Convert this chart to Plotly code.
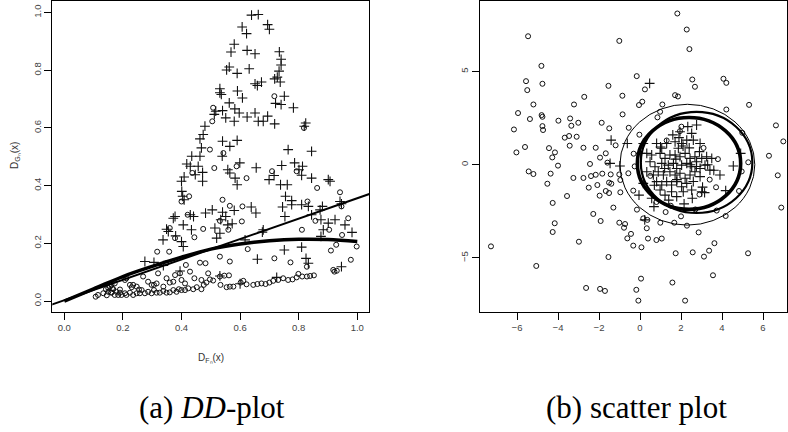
import plotly.graph_objects as go

W, H = 788, 432

# ---------------- Panel (a): DD-plot ----------------
a_plus_x = [0.639,0.662,0.607,0.622,0.694,0.700,0.580,0.569,0.624,0.651,0.734,0.740,0.740,0.554,0.563,0.590,0.631,0.733,0.727,0.737,
            0.651,0.659,0.673,0.718,0.531,0.531,0.536,0.591,0.608,0.563,0.721,0.740,0.751,0.782,0.517,0.512,0.540,0.551,0.582,0.597,
            0.624,0.651,0.662,0.694,0.679,0.718,0.480,0.474,0.463,0.540,0.565,0.590,0.580,0.819,0.824,0.844,0.468,0.463,0.457,0.472,
            0.472,0.435,0.418,0.430,0.447,0.539,0.565,0.558,0.583,0.590,0.599,0.655,0.699,0.716,0.742,0.738,0.761,0.764,0.786,0.801,
            0.810,0.844,0.813,0.907,0.901,0.400,0.409,0.401,0.404,0.409,0.372,0.378,0.349,0.355,0.337,0.406,0.434,0.430,0.441,0.400,
            0.406,0.482,0.505,0.514,0.540,0.534,0.551,0.531,0.558,0.580,0.573,0.520,0.638,0.654,0.679,0.676,0.745,0.753,0.755,0.776,
            0.776,0.810,0.833,0.844,0.873,0.881,0.876,0.884,0.876,0.901,0.924,0.941,0.946,0.958,0.982,0.946,0.659,0.751,0.810,0.825,
            0.833,0.275,0.306,0.338,0.617,0.531,0.725,0.395,0.380,0.600]
a_plus_y = [0.991,0.993,0.950,0.927,0.958,0.942,0.890,0.863,0.869,0.857,0.864,0.838,0.818,0.801,0.811,0.789,0.805,0.797,0.776,0.759,
            0.753,0.747,0.759,0.770,0.736,0.722,0.716,0.728,0.704,0.687,0.685,0.681,0.710,0.670,0.658,0.647,0.660,0.635,0.666,0.652,
            0.638,0.652,0.623,0.641,0.623,0.614,0.606,0.577,0.562,0.554,0.536,0.557,0.623,0.606,0.617,0.519,0.531,0.502,0.467,0.446,
            0.415,0.502,0.475,0.467,0.438,0.502,0.444,0.455,0.426,0.403,0.479,0.462,0.421,0.435,0.470,0.403,0.403,0.525,0.479,0.455,
            0.436,0.426,0.467,0.415,0.421,0.415,0.430,0.380,0.363,0.351,0.287,0.293,0.249,0.241,0.212,0.264,0.247,0.299,0.293,0.206,
            0.189,0.305,0.316,0.253,0.308,0.282,0.293,0.235,0.264,0.314,0.268,0.218,0.326,0.305,0.247,0.239,0.326,0.293,0.363,0.348,
            0.334,0.334,0.328,0.299,0.316,0.328,0.282,0.247,0.224,0.270,0.282,0.345,0.337,0.264,0.238,0.119,0.145,0.177,0.187,0.148,
            0.131,0.137,0.134,0.123,0.212,0.087,0.082,0.104,0.226,0.060]

a_circ_x = [0.717,0.508,0.505,0.818,0.497,0.512,0.543,0.588,0.709,0.793,0.622,0.437,0.426,0.400,0.421,0.474,0.444,0.378,0.360,0.317,
            0.358,0.540,0.565,0.608,0.531,0.560,0.606,0.626,0.531,0.565,0.863,0.830,0.857,0.904,0.941,0.946,0.969,0.948,0.928,0.910,
            0.998,0.978,0.811,0.828,0.772,0.717,
            0.107,0.115,0.133,0.142,0.150,0.156,0.161,0.167,0.172,0.178,0.184,0.190,0.195,0.207,0.212,0.224,0.235,0.247,0.258,0.264,
            0.275,0.286,0.298,0.306,0.315,0.326,0.338,0.349,0.360,0.372,0.383,0.391,0.400,0.412,0.423,0.440,0.452,0.468,0.476,0.485,
            0.508,0.533,0.554,0.565,0.577,0.602,0.611,0.622,0.645,0.659,0.673,0.687,0.700,0.713,0.730,0.747,0.764,0.779,0.793,0.799,
            0.812,0.828,0.839,0.852,0.918,0.922,0.930,
            0.212,0.224,0.235,0.247,0.269,0.286,0.298,0.315,0.338,0.349,0.360,0.372,0.378,0.395,0.400,0.412,0.429,0.444,0.463,0.482,
            0.491,0.497,0.531,0.546,0.562,0.468,0.415,0.347,0.320,0.306,0.172,0.163,0.161,0.207,0.150,0.160,0.145,0.190,0.230,0.255]
a_circ_y = [0.710,0.670,0.623,0.600,0.525,0.461,0.513,0.467,0.450,0.450,0.426,0.444,0.363,0.345,0.299,0.250,0.221,0.218,0.253,0.171,
            0.171,0.351,0.330,0.328,0.278,0.247,0.276,0.180,0.154,0.137,0.392,0.345,0.278,0.247,0.377,0.328,0.287,0.229,0.195,0.175,
            0.189,0.143,0.247,0.119,0.134,0.148,
            0.015,0.021,0.027,0.041,0.032,0.050,0.029,0.041,0.021,0.032,0.021,0.029,0.021,0.027,0.021,0.029,0.021,0.027,0.027,0.038,
            0.027,0.032,0.027,0.038,0.029,0.029,0.035,0.029,0.030,0.038,0.032,0.041,0.038,0.038,0.044,0.041,0.048,0.041,0.056,0.064,
            0.071,0.056,0.048,0.050,0.050,0.064,0.070,0.058,0.056,0.059,0.061,0.059,0.064,0.070,0.073,0.079,0.073,0.075,0.082,0.094,
            0.085,0.085,0.087,0.089,0.108,0.102,0.105,
            0.079,0.056,0.056,0.050,0.085,0.067,0.056,0.061,0.050,0.079,0.064,0.067,0.090,0.096,0.073,0.061,0.102,0.079,0.133,0.131,
            0.096,0.075,0.085,0.088,0.089,0.073,0.125,0.131,0.096,0.056,0.061,0.044,0.056,0.073,0.045,0.030,0.020,0.040,0.048,0.040]

# fitted curves (panel a)
a_line_x = [-0.05, 1.05]
a_line_y = [-0.015, 0.374]
a_curve_x = [0.0, 0.1, 0.2, 0.3, 0.4, 0.5, 0.6, 0.7, 0.8, 0.9, 1.0]
a_curve_y = [0.0, 0.042, 0.085, 0.120, 0.152, 0.180, 0.198, 0.209, 0.214, 0.213, 0.206]
a_ticks = [0.0, 0.2, 0.4, 0.6, 0.8, 1.0]
a_ticktext = ["0.0", "0.2", "0.4", "0.6", "0.8", "1.0"]

# ---------------- Panel (b): scatter plot ----------------
b_circ_x = [1.82,2.28,2.41,-5.46,-1.01,-4.81,-5.56,-4.76,-5.50,-0.16,0.24,2.55,2.68,4.07,4.21,-1.54,-0.86,-2.72,-3.22,-5.20,
            -5.95,-5.37,-4.80,-4.76,-6.15,-4.76,-4.73,-3.98,-3.41,-3.35,-3.01,-3.46,-3.67,-3.09,-3.43,-2.76,-5.61,-6.03,-4.44,-4.15,
            -4.28,-4.00,-5.43,-5.20,-4.36,-4.52,-3.56,-4.26,-4.16,-4.26,-2.98,-7.27,-5.06,-2.63,-1.95,-1.71,-0.18,-0.08,0.05,1.58,
            2.20,3.56,3.12,3.37,3.63,2.57,1.74,5.27,-1.54,0.07,-0.33,-0.62,-0.44,0.39,0.80,1.06,0.33,-0.78,-0.73,-1.01,
            -1.92,-2.28,-1.30,-0.15,0.16,0.36,0.99,1.25,1.67,2.00,2.29,2.86,3.74,4.18,4.83,4.96,5.28,4.99,4.21,5.32,
            6.29,6.63,6.99,6.72,6.89,3.71,-1.95,-1.67,-1.59,-2.16,-1.87,-1.50,-1.19,-0.85,-0.55,-0.03,-0.31,-0.26,-0.57,-1.01,
            -0.96,-1.43,-1.51,-1.40,-1.84,-2.16,-2.39,-2.44,-2.76,-3.25,-2.50,-2.08,-1.97,-1.67,-1.51,-0.96,-0.33,1.09,0.98,0.85,
            0.11,-0.05,1.71,1.85,2.02,1.30,1.95,3.10,3.40,0.50,2.90,3.80,0.80,1.50,2.70]
b_circ_y = [8.11,7.25,6.20,6.89,6.64,5.30,4.48,4.34,4.00,4.75,4.04,4.57,4.18,4.61,4.39,4.23,3.70,3.64,3.23,3.23,
            2.77,2.45,2.66,2.57,1.89,2.07,1.86,2.36,2.48,2.09,2.25,1.54,1.45,1.50,1.02,0.91,0.95,0.66,0.89,0.66,
            0.39,-0.05,-0.36,-0.50,-0.48,-1.02,-1.68,-2.05,-3.14,-3.61,-4.13,-4.38,-5.43,-6.61,-6.66,-6.77,-6.71,-7.29,-6.11,-6.32,
            -7.29,-5.93,-4.93,-4.61,-4.21,-4.70,-4.75,-4.75,-4.95,-4.43,-4.34,-3.95,-3.71,-3.96,-4.04,-3.96,-3.41,-3.38,-3.18,-3.11,
            -3.02,-2.64,-2.30,-2.41,-2.88,-2.96,-3.11,-2.54,-3.11,-2.77,-3.27,-3.63,-2.46,-2.75,-1.41,-0.36,0.13,1.71,2.96,3.21,
            0.48,2.11,1.25,-0.57,-2.30,-1.21,0.38,0.61,0.11,0.91,2.25,1.95,1.04,2.70,1.98,1.61,0.59,-0.09,-0.46,-0.52,
            -0.82,-0.52,-0.96,-1.02,-0.48,-0.54,-0.61,0.04,-0.71,-0.71,-1.23,-1.09,-1.66,-1.41,-1.52,-1.48,-1.39,3.23,2.84,2.54,
            3.38,3.20,3.73,3.66,2.04,1.30,1.80,0.90,-0.80,-0.60,-1.60,0.30,-2.00,-2.20,-2.40]

b_plus_x = [2.33,2.76,2.52,1.95,0.81,1.06,1.30,1.71,1.87,2.03,2.28,2.60,2.93,0.16,0.03,0.33,0.57,0.98,1.22,1.46,
            1.71,1.95,2.20,2.44,2.68,3.01,3.25,3.50,0.49,0.73,1.06,1.38,1.63,1.79,2.03,2.28,2.52,2.76,2.93,3.17,
            3.41,3.90,0.33,0.65,0.89,1.14,1.46,1.71,1.95,2.20,2.44,2.68,2.93,0.81,1.06,1.30,1.54,1.79,2.03,2.28,
            2.52,3.01,0.98,1.22,1.54,1.79,2.11,0.57,0.16,0.47,-1.41,-1.46,-0.62,-0.98,-0.05,0.23,0.68,4.18,4.55,4.91,
            3.15,1.60,2.10,2.40,2.90,3.30,1.20,1.80,2.60,3.60,0.70,1.40,2.15,2.55,3.05,1.75,2.45,1.00,1.90,2.75]
b_plus_y = [2.04,2.13,1.68,1.77,1.14,0.88,1.14,1.23,0.88,1.14,1.32,1.32,1.14,1.14,0.61,0.61,0.52,0.61,0.34,0.52,
            0.52,0.43,0.61,0.34,0.43,0.34,0.43,0.34,0.16,-0.11,0.07,-0.02,0.07,-0.20,-0.02,0.07,-0.11,0.16,-0.20,-0.02,
            -0.29,-0.55,-0.38,-0.55,-0.38,-0.55,-0.38,-0.55,-0.46,-0.73,-0.55,-0.38,-0.64,-0.91,-1.09,-0.91,-1.09,-0.91,-1.18,-1.00,
            -1.36,-1.45,-1.36,-1.63,-1.45,-1.71,-1.45,-1.80,-1.00,4.36,1.32,0.07,1.14,-0.07,-1.63,-2.96,-2.25,-1.39,-0.07,0.61,
            -1.50,1.60,1.00,0.90,0.70,0.00,-0.20,-0.80,-0.90,-0.30,-1.10,-1.90,-2.10,-1.80,-1.20,0.30,0.00,0.95,1.45,-0.10]

# ellipses: centre x, centre y, half-width, half-height, line width
ell_cx = [2.31, 2.76, 2.39]
ell_cy = [0.00, 0.12, 0.07]
ell_rx = [3.29, 2.72, 2.52]
ell_ry = [3.24, 2.71, 2.46]
ell_w = [1.0, 2.2, 3.6]
b_xticks = [-6, -4, -2, 0, 2, 4, 6]
b_yticks = [-5, 0, 5]

INK = "#111111"
TICKFONT = dict(family="Liberation Sans, Arial, sans-serif", size=9.5, color="#444444")
CIRC = dict(symbol="circle-open", size=5, color=INK, line=dict(width=1, color=INK))
PLUS = dict(symbol="cross-thin-open", size=7, color=INK, line=dict(width=1.1, color=INK))

fig = go.Figure()

# panel a traces
fig.add_trace(go.Scatter(x=a_circ_x, y=a_circ_y, mode="markers", xaxis="x", yaxis="y", marker=CIRC))
fig.add_trace(go.Scatter(x=a_plus_x, y=a_plus_y, mode="markers", xaxis="x", yaxis="y", marker=PLUS))
fig.add_trace(go.Scatter(x=a_line_x, y=a_line_y, mode="lines", xaxis="x", yaxis="y",
                         line=dict(color="black", width=2)))
fig.add_trace(go.Scatter(x=a_curve_x, y=a_curve_y, mode="lines", xaxis="x", yaxis="y",
                         line=dict(color="black", width=3.5, shape="spline")))

# panel b traces
fig.add_trace(go.Scatter(x=b_circ_x, y=b_circ_y, mode="markers", xaxis="x2", yaxis="y2", marker=CIRC))
fig.add_trace(go.Scatter(x=b_plus_x, y=b_plus_y, mode="markers", xaxis="x2", yaxis="y2", marker=PLUS))

shapes = []
for cx, cy, rx, ry, lw in zip(ell_cx, ell_cy, ell_rx, ell_ry, ell_w):
    shapes.append(dict(type="circle", xref="x2", yref="y2", x0=cx - rx, x1=cx + rx, y0=cy - ry, y1=cy + ry,
                       line=dict(color="black", width=lw)))

def px(v):
    return v / W

def py(v):
    return 1 - v / H

axis_common = dict(showline=True, mirror=True, linecolor="black", linewidth=1, ticks="outside", ticklen=7,
                   tickwidth=1, tickcolor="black", showgrid=False, zeroline=False, tickfont=TICKFONT, fixedrange=True)

fig.update_layout(
    width=W, height=H, margin=dict(l=0, r=0, t=0, b=0), showlegend=False,
    paper_bgcolor="white", plot_bgcolor="white",
    xaxis=dict(domain=[px(52.3), px(369)], range=[-0.041, 1.04], tickvals=a_ticks, ticktext=a_ticktext,
               anchor="y", **axis_common),
    yaxis=dict(domain=[py(312), py(1)], range=[-0.038, 1.04], tickvals=a_ticks, ticktext=a_ticktext,
               tickangle=-90, anchor="x", **axis_common),
    xaxis2=dict(domain=[px(479.7), px(787)], range=[-7.82, 7.17], tickvals=b_xticks, anchor="y2", **axis_common),
    yaxis2=dict(domain=[py(312), py(1)], range=[-7.9, 8.78], tickvals=b_yticks, tickangle=-90, anchor="x2",
                **axis_common),
    shapes=shapes,
    annotations=[
        dict(text="D<sub>Fₙ</sub>(x)", xref="paper", yref="paper", x=px(211), y=py(358), showarrow=False,
             font=dict(family="Liberation Sans, Arial, sans-serif", size=10, color="#333333"),
             xanchor="center", yanchor="middle"),
        dict(text="D<sub>Gₙ</sub>(x)", xref="paper", yref="paper", x=px(15), y=py(156), showarrow=False,
             textangle=-90, font=dict(family="Liberation Sans, Arial, sans-serif", size=10, color="#333333"),
             xanchor="center", yanchor="middle"),
        dict(text="(a) <i>DD</i>-plot", xref="paper", yref="paper", x=px(212), y=py(407), showarrow=False,
             font=dict(family="Liberation Serif, Times New Roman, serif", size=31, color="black"),
             xanchor="center", yanchor="middle"),
        dict(text="(b) scatter plot", xref="paper", yref="paper", x=px(636), y=py(407), showarrow=False,
             font=dict(family="Liberation Serif, Times New Roman, serif", size=31, color="black"),
             xanchor="center", yanchor="middle"),
    ],
)

fig.write_html("out.html")
